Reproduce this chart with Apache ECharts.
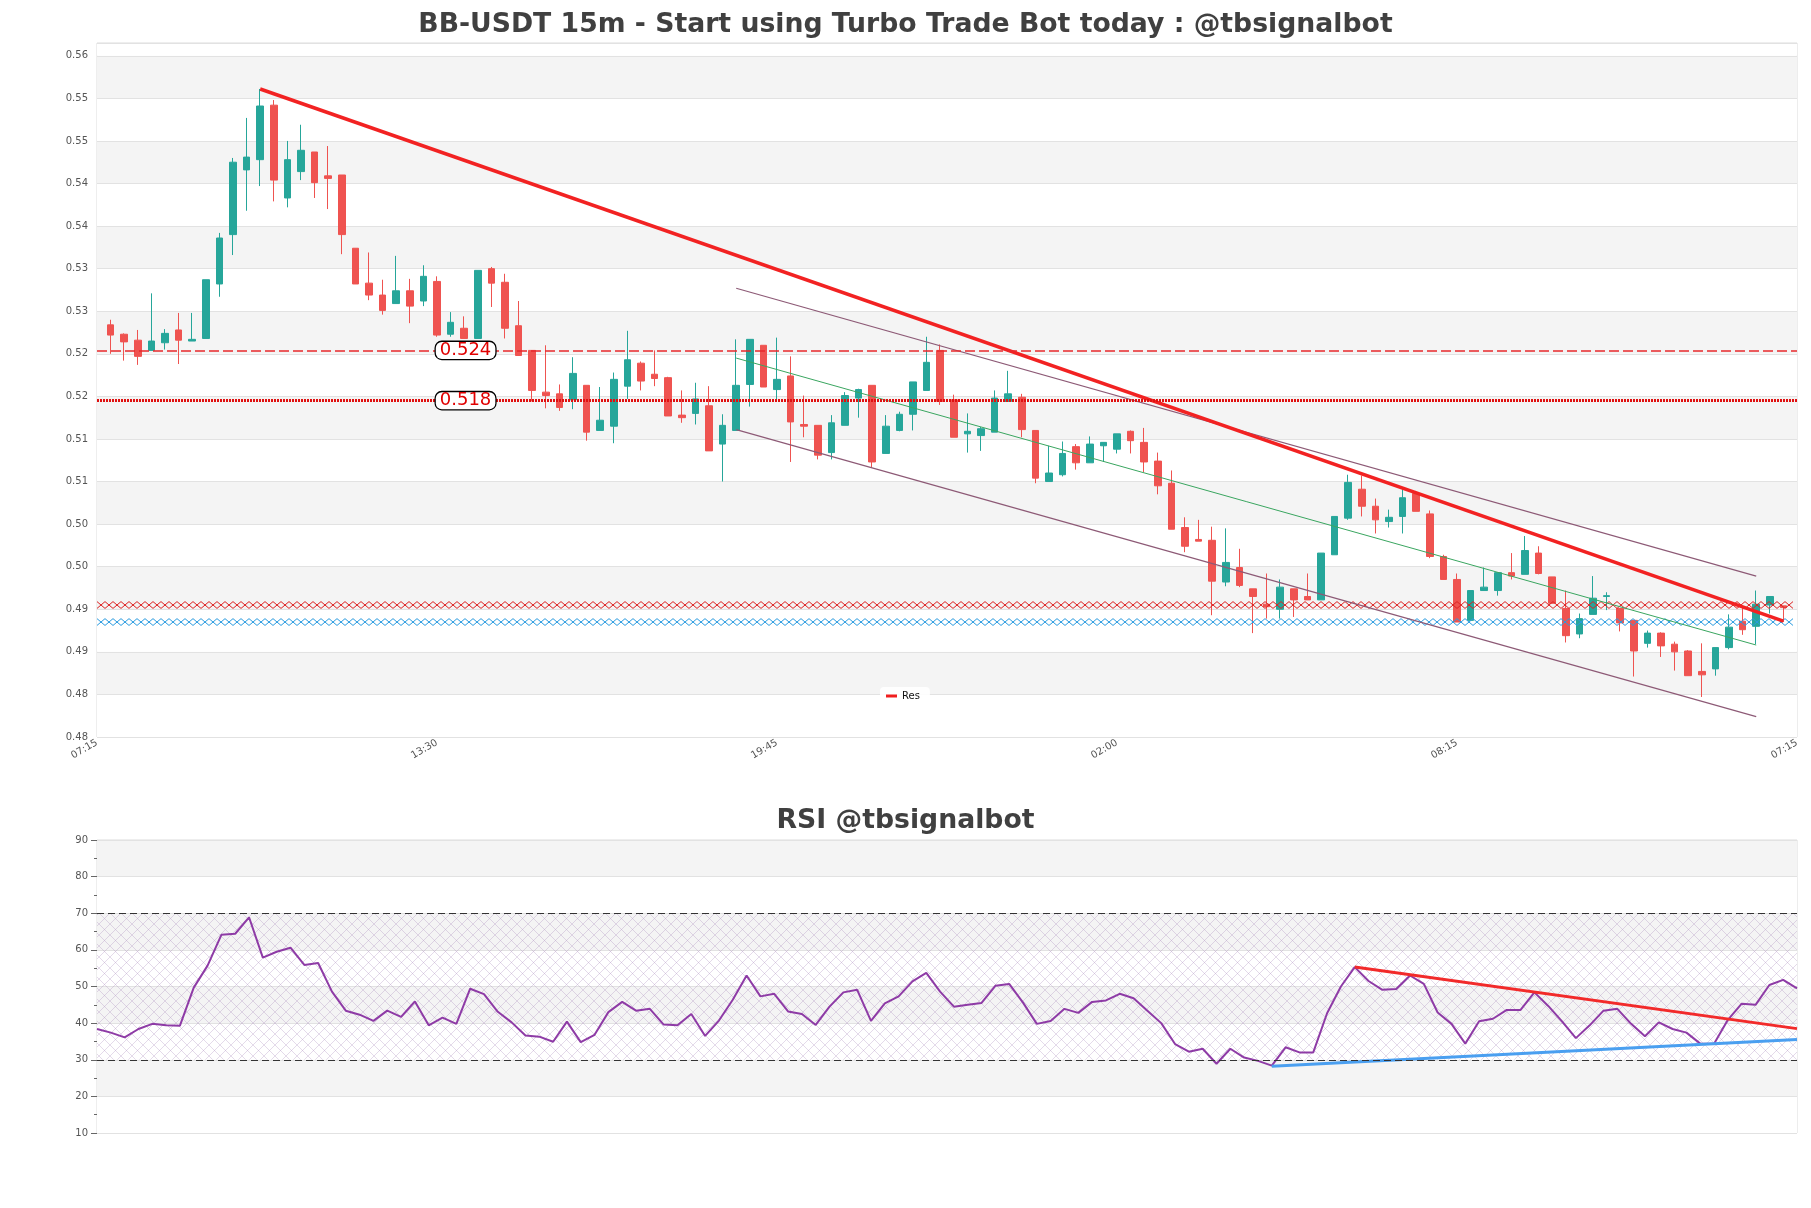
<!DOCTYPE html>
<html>
<head>
<meta charset="utf-8">
<title>BB-USDT 15m</title>
<script src="https://cdn.jsdelivr.net/npm/echarts@6/dist/echarts.min.js"></script>
<style>
  html, body { margin: 0; padding: 0; background: #fff; }
  #chart { width: 1811px; height: 1208px; }
</style>
</head>
<body>
<div id="chart"></div>
<script>
const timeLabels = ['07:15', '13:30', '19:45', '02:00', '08:15', '07:15'];

// one row per 15m candle: open, close, low, high
const ohlc = [
  [0.5274, 0.5262, 0.5240, 0.5280], [0.5263, 0.5254, 0.5232, 0.5264], [0.5256, 0.5237, 0.5227, 0.5268],
  [0.5244, 0.5255, 0.5244, 0.5311], [0.5253, 0.5264, 0.5245, 0.5269], [0.5268, 0.5256, 0.5228, 0.5288],
  [0.5255, 0.5257, 0.5255, 0.5288], [0.5258, 0.5327, 0.5258, 0.5327], [0.5322, 0.5376, 0.5307, 0.5382],
  [0.5380, 0.5465, 0.5356, 0.5470], [0.5456, 0.5471, 0.5408, 0.5517], [0.5468, 0.5531, 0.5437, 0.5551],
  [0.5532, 0.5444, 0.5419, 0.5538], [0.5423, 0.5468, 0.5412, 0.5490], [0.5454, 0.5479, 0.5444, 0.5509],
  [0.5477, 0.5441, 0.5423, 0.5477], [0.5449, 0.5446, 0.5410, 0.5484], [0.5450, 0.5380, 0.5357, 0.5450],
  [0.5364, 0.5322, 0.5322, 0.5364], [0.5323, 0.5309, 0.5303, 0.5359], [0.5309, 0.5291, 0.5286, 0.5327],
  [0.5299, 0.5314, 0.5299, 0.5355], [0.5314, 0.5296, 0.5276, 0.5328], [0.5302, 0.5331, 0.5296, 0.5344],
  [0.5325, 0.5262, 0.5260, 0.5331], [0.5263, 0.5277, 0.5260, 0.5289], [0.5270, 0.5258, 0.5258, 0.5284],
  [0.5258, 0.5338, 0.5258, 0.5338], [0.5340, 0.5323, 0.5295, 0.5342], [0.5324, 0.5270, 0.5258, 0.5334],
  [0.5273, 0.5238, 0.5238, 0.5302], [0.5244, 0.5197, 0.5184, 0.5244], [0.5195, 0.5191, 0.5176, 0.5250],
  [0.5193, 0.5177, 0.5173, 0.5204], [0.5186, 0.5217, 0.5175, 0.5236], [0.5203, 0.5148, 0.5138, 0.5203],
  [0.5150, 0.5162, 0.5150, 0.5201], [0.5155, 0.5210, 0.5135, 0.5218], [0.5202, 0.5233, 0.5187, 0.5267],
  [0.5229, 0.5208, 0.5197, 0.5231], [0.5216, 0.5211, 0.5202, 0.5244], [0.5212, 0.5167, 0.5167, 0.5213],
  [0.5168, 0.5165, 0.5159, 0.5197], [0.5170, 0.5187, 0.5157, 0.5206], [0.5179, 0.5126, 0.5126, 0.5202],
  [0.5134, 0.5156, 0.5090, 0.5169], [0.5150, 0.5203, 0.5150, 0.5257], [0.5204, 0.5257, 0.5178, 0.5257],
  [0.5250, 0.5201, 0.5201, 0.5250], [0.5198, 0.5210, 0.5186, 0.5259], [0.5214, 0.5160, 0.5113, 0.5237],
  [0.5157, 0.5155, 0.5142, 0.5191], [0.5156, 0.5121, 0.5116, 0.5156], [0.5124, 0.5159, 0.5116, 0.5168],
  [0.5156, 0.5191, 0.5156, 0.5195], [0.5188, 0.5198, 0.5165, 0.5199], [0.5203, 0.5113, 0.5107, 0.5203],
  [0.5123, 0.5155, 0.5123, 0.5168], [0.5150, 0.5169, 0.5149, 0.5172], [0.5169, 0.5207, 0.5150, 0.5207],
  [0.5197, 0.5230, 0.5197, 0.5260], [0.5244, 0.5184, 0.5180, 0.5251], [0.5186, 0.5142, 0.5142, 0.5192],
  [0.5146, 0.5149, 0.5124, 0.5170], [0.5144, 0.5152, 0.5126, 0.5154], [0.5148, 0.5188, 0.5148, 0.5197],
  [0.5184, 0.5193, 0.5184, 0.5220], [0.5189, 0.5151, 0.5142, 0.5193], [0.5150, 0.5094, 0.5088, 0.5150],
  [0.5090, 0.5100, 0.5090, 0.5132], [0.5098, 0.5123, 0.5096, 0.5137], [0.5131, 0.5112, 0.5104, 0.5134],
  [0.5112, 0.5134, 0.5112, 0.5143], [0.5132, 0.5136, 0.5113, 0.5136], [0.5128, 0.5146, 0.5123, 0.5146],
  [0.5149, 0.5138, 0.5123, 0.5150], [0.5136, 0.5113, 0.5101, 0.5153], [0.5114, 0.5085, 0.5075, 0.5124],
  [0.5088, 0.5034, 0.5034, 0.5103], [0.5036, 0.5014, 0.5007, 0.5048], [0.5022, 0.5020, 0.5020, 0.5045],
  [0.5021, 0.4973, 0.4933, 0.5037], [0.4972, 0.4995, 0.4967, 0.5035], [0.4989, 0.4968, 0.4966, 0.5011],
  [0.4964, 0.4955, 0.4912, 0.4964], [0.4946, 0.4943, 0.4929, 0.4982], [0.4940, 0.4966, 0.4929, 0.4975],
  [0.4964, 0.4951, 0.4931, 0.4964], [0.4955, 0.4951, 0.4951, 0.4982], [0.4951, 0.5006, 0.4951, 0.5006],
  [0.5004, 0.5049, 0.5004, 0.5049], [0.5047, 0.5089, 0.5045, 0.5098], [0.5081, 0.5061, 0.5049, 0.5097],
  [0.5061, 0.5045, 0.5029, 0.5070], [0.5043, 0.5048, 0.5036, 0.5057], [0.5049, 0.5071, 0.5029, 0.5081],
  [0.5076, 0.5055, 0.5055, 0.5079], [0.5052, 0.5002, 0.5000, 0.5056], [0.5002, 0.4975, 0.4975, 0.5004],
  [0.4975, 0.4925, 0.4925, 0.4982], [0.4927, 0.4962, 0.4927, 0.4962], [0.4962, 0.4966, 0.4962, 0.4989],
  [0.4962, 0.4983, 0.4956, 0.4983], [0.4983, 0.4979, 0.4975, 0.5006], [0.4981, 0.5009, 0.4981, 0.5026],
  [0.5006, 0.4982, 0.4981, 0.5014], [0.4978, 0.4947, 0.4947, 0.4978], [0.4941, 0.4909, 0.4901, 0.4962],
  [0.4911, 0.4929, 0.4906, 0.4935], [0.4934, 0.4953, 0.4934, 0.4979], [0.4955, 0.4956, 0.4939, 0.4960],
  [0.4941, 0.4924, 0.4914, 0.4941], [0.4927, 0.4891, 0.4861, 0.4927], [0.4900, 0.4912, 0.4895, 0.4915],
  [0.4912, 0.4897, 0.4884, 0.4913], [0.4899, 0.4890, 0.4868, 0.4902], [0.4891, 0.4862, 0.4862, 0.4892],
  [0.4867, 0.4863, 0.4837, 0.4900], [0.4870, 0.4895, 0.4862, 0.4895], [0.4895, 0.4919, 0.4893, 0.4934],
  [0.4926, 0.4916, 0.4910, 0.4943], [0.4920, 0.4946, 0.4899, 0.4962], [0.4945, 0.4955, 0.4935, 0.4955],
  [0.4944, 0.4942, 0.4925, 0.4944]
];

const rsiValues = [
  38.4, 37.4, 36.1, 38.4, 39.8, 39.4, 39.3, 49.7, 55.7, 64.1, 64.4, 68.9, 57.9, 59.5, 60.6, 55.9,
  56.4, 48.6, 43.4, 42.3, 40.6, 43.4, 41.7, 45.9, 39.4, 41.5, 39.8, 49.4, 47.9, 43.1, 40.2, 36.6,
  36.3, 34.9, 40.4, 34.8, 36.8, 43.0, 45.8, 43.4, 43.9, 39.6, 39.4, 42.5, 36.5, 40.7, 46.4, 53.0,
  47.3, 48.0, 43.2, 42.5, 39.5, 44.5, 48.4, 49.1, 40.6, 45.4, 47.3, 51.4, 53.7, 48.6, 44.5, 45.0,
  45.5, 50.2, 50.7, 45.6, 39.8, 40.6, 43.9, 42.8, 45.8, 46.2, 48.0, 46.8, 43.4, 40.0, 34.3, 32.2,
  33.0, 28.9, 33.0, 30.6, 29.7, 28.4, 33.4, 32.0, 32.0, 42.7, 50.0, 55.3, 51.5, 49.1, 49.3, 53.0,
  50.7, 42.9, 39.8, 34.4, 40.5, 41.2, 43.6, 43.6, 48.4, 44.7, 40.5, 35.9, 39.4, 43.4, 43.9, 39.8,
  36.4, 40.2, 38.4, 37.4, 34.4, 34.4, 40.9, 45.3, 45.0, 50.4, 51.8, 49.5
];

// trend lines: [candle index, price]
const resLine = [[12, 0.5551], [124, 0.4926]];
const channelMid = [[47, 0.5235], [122, 0.4898]];
const channelUpper = [[47, 0.5317], [122, 0.4979]];
const channelLower = [[47, 0.5151], [122, 0.4814]];

const priceLevels = [0.5244, 0.5185];
const levelLabels = ['0.524', '0.518'];
const levelLabelAt = 27.1;

const zoneRed = [0.4941, 0.4949];
const zoneBlue = [0.4921, 0.4929];

// RSI trend lines: [point index, rsi]
const rsiResLine = [[91, 55.3], [123, 38.5]];
const rsiSupLine = [[85, 28.2], [123, 35.5]];

const FONT = 'DejaVu Sans';

function hatchCanvas() {
  const c = document.createElement('canvas');
  c.width = 11; c.height = 11;
  const g = c.getContext('2d');
  g.strokeStyle = 'rgba(170,140,190,0.32)';
  g.lineWidth = 1;
  g.beginPath();
  g.moveTo(0, 0); g.lineTo(11, 11);
  g.moveTo(11, 0); g.lineTo(0, 11);
  g.stroke();
  return c;
}

// zig-zag cross hatch inside a thin horizontal band
function renderZone(params, api) {
  const yTop = api.coord([0, api.value(2)])[1];
  const yBot = api.coord([0, api.value(1)])[1];
  const cs = params.coordSys;
  const step = 8;
  const a = [], b = [];
  let up = true;
  for (let x = cs.x; x <= cs.x + cs.width + 0.01; x += step) {
    a.push([x, up ? yTop : yBot]);
    b.push([x, up ? yBot : yTop]);
    up = !up;
  }
  const color = api.visual('color');
  return {
    type: 'group',
    children: [
      { type: 'polyline', shape: { points: a }, style: { stroke: color, lineWidth: 1, fill: null } },
      { type: 'polyline', shape: { points: b }, style: { stroke: color, lineWidth: 1, fill: null } }
    ]
  };
}

const chart = echarts.init(document.getElementById('chart'));

const option = {
  backgroundColor: '#fff',
  animation: false,
  textStyle: { fontFamily: FONT },
  title: [
    {
      text: 'BB-USDT 15m - Start using Turbo Trade Bot today : @tbsignalbot',
      left: 'center', top: 7,
      textStyle: { fontFamily: FONT, fontSize: 26.7, fontWeight: 'bold', color: '#404040' }
    },
    {
      text: 'RSI @tbsignalbot',
      left: 'center', top: 803,
      textStyle: { fontFamily: FONT, fontSize: 26.7, fontWeight: 'bold', color: '#404040' }
    }
  ],
  legend: {
    data: ['Res'],
    left: 880, top: 687,
    backgroundColor: 'rgba(255,255,255,0.9)',
    borderRadius: 4,
    padding: [4, 10, 4, 6],
    icon: 'rect',
    itemWidth: 11, itemHeight: 3,
    itemGap: 6,
    textStyle: { fontFamily: FONT, fontSize: 10, color: '#111' }
  },
  grid: [
    { left: 97, right: 14, top: 43, height: 694, show: true, borderColor: '#dcdcdc', borderWidth: 1, backgroundColor: 'transparent' },
    { left: 97, right: 14, top: 840, height: 293, show: true, borderColor: '#dcdcdc', borderWidth: 1, backgroundColor: 'transparent' }
  ],
  xAxis: [
    {
      type: 'value', gridIndex: 0, min: 0, max: 125, interval: 25,
      axisLine: { show: false }, axisTick: { show: false }, splitLine: { show: false },
      axisLabel: {
        rotate: 30, fontSize: 10, color: '#555', margin: 5, fontFamily: FONT,
        formatter: v => timeLabels[Math.round(v / 25)]
      }
    },
    {
      type: 'value', gridIndex: 1, min: 0, max: 123,
      axisLine: { show: false }, axisTick: { show: false }, splitLine: { show: false },
      axisLabel: { show: false }
    }
  ],
  yAxis: [
    {
      type: 'value', gridIndex: 0, min: 0.479, max: 0.5605, interval: 0.005,
      axisLine: { show: false }, axisTick: { show: false },
      axisLabel: {
        fontSize: 10, color: '#555', margin: 9, fontFamily: FONT,
        formatter: v => (v > 0.5595 ? '' : v.toFixed(2))
      },
      splitLine: { lineStyle: { color: '#e2e2e2', width: 1 } },
      splitArea: { show: true, areaStyle: { color: ['#ffffff', '#f4f4f4'] } }
    },
    {
      type: 'value', gridIndex: 1, min: 10, max: 90, interval: 10,
      axisLine: { show: false },
      axisTick: { show: true, length: 6, lineStyle: { color: '#666' } },
      minorTick: { show: true, splitNumber: 2, length: 3, lineStyle: { color: '#666' } },
      axisLabel: { fontSize: 10, color: '#555', margin: 9, fontFamily: FONT },
      splitLine: { lineStyle: { color: '#e2e2e2', width: 1 } },
      splitArea: { show: true, areaStyle: { color: ['#ffffff', '#f4f4f4'] } }
    }
  ],
  series: [
    {
      type: 'candlestick',
      xAxisIndex: 0, yAxisIndex: 0,
      data: ohlc.map((c, i) => [i + 1, c[0], c[1], c[2], c[3]]),
      encode: { x: 0, y: [1, 2, 3, 4] },
      barWidth: 7,
      itemStyle: {
        color: '#26a69a', color0: '#ef5350',
        borderColor: '#26a69a', borderColor0: '#ef5350', borderWidth: 1
      }
    },
    {
      type: 'custom', xAxisIndex: 0, yAxisIndex: 0, z: 3, silent: true,
      renderItem: renderZone,
      encode: { x: 0, y: [1, 2] },
      itemStyle: { color: '#dd2222' },
      data: [[0, zoneRed[0], zoneRed[1]]]
    },
    {
      type: 'custom', xAxisIndex: 0, yAxisIndex: 0, z: 3, silent: true,
      renderItem: renderZone,
      encode: { x: 0, y: [1, 2] },
      itemStyle: { color: '#2a9be0' },
      data: [[0, zoneBlue[0], zoneBlue[1]]]
    },
    {
      type: 'line', xAxisIndex: 0, yAxisIndex: 0, z: 3, silent: true,
      data: channelMid, showSymbol: false,
      lineStyle: { color: '#3aa660', width: 1 }
    },
    {
      type: 'line', xAxisIndex: 0, yAxisIndex: 0, z: 3, silent: true,
      data: channelUpper, showSymbol: false,
      lineStyle: { color: '#8d5a76', width: 1.2 }
    },
    {
      type: 'line', xAxisIndex: 0, yAxisIndex: 0, z: 3, silent: true,
      data: channelLower, showSymbol: false,
      lineStyle: { color: '#8d5a76', width: 1.2 }
    },
    {
      name: 'Res', type: 'line', xAxisIndex: 0, yAxisIndex: 0, z: 4, silent: true,
      data: resLine, showSymbol: false,
      itemStyle: { color: '#f01e1e' },
      lineStyle: { color: '#f22222', width: 3.5 },
      markLine: {
        silent: true, symbol: 'none', animation: false, precision: 4,
        label: { show: false },
        data: [
          { yAxis: priceLevels[0], lineStyle: { color: '#e8282b', type: [10, 4], width: 1.5 } },
          { yAxis: priceLevels[1], lineStyle: { color: '#e01010', type: [2, 1], width: 3 } }
        ]
      },
      markPoint: {
        silent: true, symbol: 'rect', symbolSize: 1,
        itemStyle: { color: 'rgba(0,0,0,0)' },
        label: {
          show: true, position: 'inside', formatter: p => p.name,
          fontFamily: FONT, fontSize: 18, color: '#e00000',
          backgroundColor: '#fff', borderColor: '#000', borderWidth: 1.3, borderRadius: 6,
          padding: [0, 4, -1, 4], lineHeight: 18
        },
        data: priceLevels.map((v, i) => ({ name: levelLabels[i], coord: [levelLabelAt, v] }))
      }
    },
    {
      type: 'line', xAxisIndex: 1, yAxisIndex: 1, silent: true,
      data: rsiValues.map((v, i) => [i, v]), showSymbol: false,
      lineStyle: { color: '#8e3ba6', width: 2 },
      markArea: {
        silent: true,
        itemStyle: { color: { image: hatchCanvas(), repeat: 'repeat' } },
        data: [[{ yAxis: 30 }, { yAxis: 70 }]]
      },
      markLine: {
        silent: true, symbol: 'none', label: { show: false },
        lineStyle: { color: '#333', type: [7, 4], width: 1.2 },
        data: [{ yAxis: 70 }, { yAxis: 30 }]
      }
    },
    {
      type: 'line', xAxisIndex: 1, yAxisIndex: 1, z: 4, silent: true,
      data: rsiResLine, showSymbol: false,
      lineStyle: { color: '#f22a2a', width: 3 }
    },
    {
      type: 'line', xAxisIndex: 1, yAxisIndex: 1, z: 4, silent: true,
      data: rsiSupLine, showSymbol: false,
      lineStyle: { color: '#4a9ff0', width: 3 }
    }
  ]
};

chart.setOption(option);
</script>
</body>
</html>
